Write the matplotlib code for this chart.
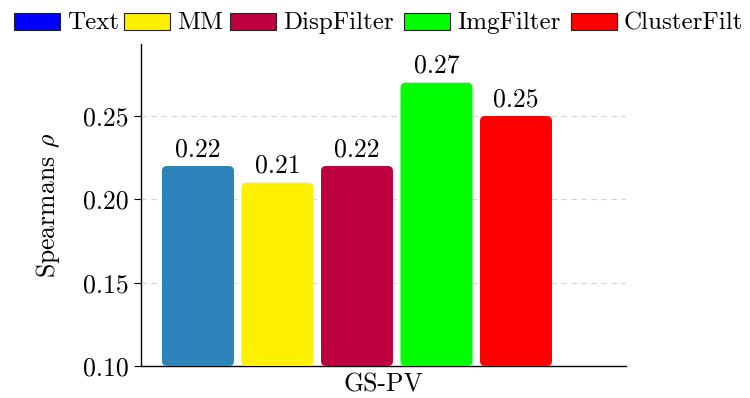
import matplotlib
matplotlib.use("Agg")
import matplotlib.pyplot as plt
from matplotlib.patches import FancyBboxPatch, Rectangle
from matplotlib.ticker import FormatStrFormatter

plt.rcParams['font.family'] = ['cmr10', 'DejaVu Serif']
plt.rcParams['mathtext.fontset'] = 'cm'
plt.rcParams['axes.formatter.use_mathtext'] = True

# Data
methods = ["Text", "MM", "DispFilter", "ImgFilter", "ClusterFilt"]
scores = [0.22, 0.21, 0.22, 0.27, 0.25]
bar_colors = ["#2C84BA", "#FFF000", "#BE0040", "#00FF00", "#FF0000"]
legend_colors = ["#0000FF", "#FFF000", "#BE0040", "#00FF00", "#FF0000"]
group_label = "GS-PV"
y_ticks = [0.10, 0.15, 0.20, 0.25]

FS = 18.5
LFS = 18.0
W, H = 750, 398
fig = plt.figure(figsize=(W / 100, H / 100), dpi=100)
ax = fig.add_axes([141 / W, 32 / H, 485 / W, 322 / H])

ymin, ymax = 0.10, 0.2932
xmin, xmax = -2.717, 3.384
ax.set_xlim(xmin, xmax)
ax.set_ylim(ymin, ymax)

# aspect between data units for rounded corners
px_x = 485 / (xmax - xmin)
px_y = 322 / (ymax - ymin)
aspect = px_x / px_y
bar_w = 72 / px_x
radius = 5 / px_x

n = len(methods)
for i, (m, v, c) in enumerate(zip(methods, scores, bar_colors)):
    xc = i - (n - 1) / 2
    patch = FancyBboxPatch((xc - bar_w / 2, ymin), bar_w, v - ymin,
                           boxstyle=f"round,pad=0,rounding_size={radius}",
                           mutation_aspect=aspect, facecolor=c,
                           edgecolor="none", zorder=3)
    ax.add_patch(patch)
    ax.annotate(f"{v:.2f}", xy=(xc, v), xytext=(0, 7),
                textcoords="offset points", ha="center", va="baseline",
                fontsize=FS, zorder=4)

ax.set_yticks(y_ticks)
ax.yaxis.set_major_formatter(FormatStrFormatter('%.2f'))
ax.tick_params(axis='y', direction='out', length=5, width=0.8,
               labelsize=FS, pad=4)
ax.set_xticks([])
ax.grid(axis='y', linestyle=(0, (5, 4)), color='#d4d4d4', linewidth=0.8,
        zorder=0)
ax.set_axisbelow(True)
for side in ("top", "right"):
    ax.spines[side].set_visible(False)
for side in ("left", "bottom"):
    ax.spines[side].set_linewidth(1.0)
    ax.spines[side].set_color("black")

ax.set_xlabel(group_label, fontsize=FS, labelpad=5)
ax.set_ylabel(r"Spearmans $\rho$", fontsize=FS, labelpad=15)

# Legend row across the top: swatch + label for each method
legend_x = [14, 124, 230, 404, 571]   # left edge of each swatch, px
sw_w, sw_top, sw_bot, text_base = 46, 13, 30, 29
for x0, lab, col in zip(legend_x, methods, legend_colors):
    fig.add_artist(Rectangle((x0 / W, 1 - sw_bot / H), sw_w / W,
                             (sw_bot - sw_top) / H,
                             transform=fig.transFigure, facecolor=col,
                             edgecolor="#222222", linewidth=0.8))
    fig.text((x0 + sw_w + 7) / W, 1 - text_base / H, lab, fontsize=LFS,
             ha="left", va="baseline")

fig.savefig("out.png", dpi=100)
